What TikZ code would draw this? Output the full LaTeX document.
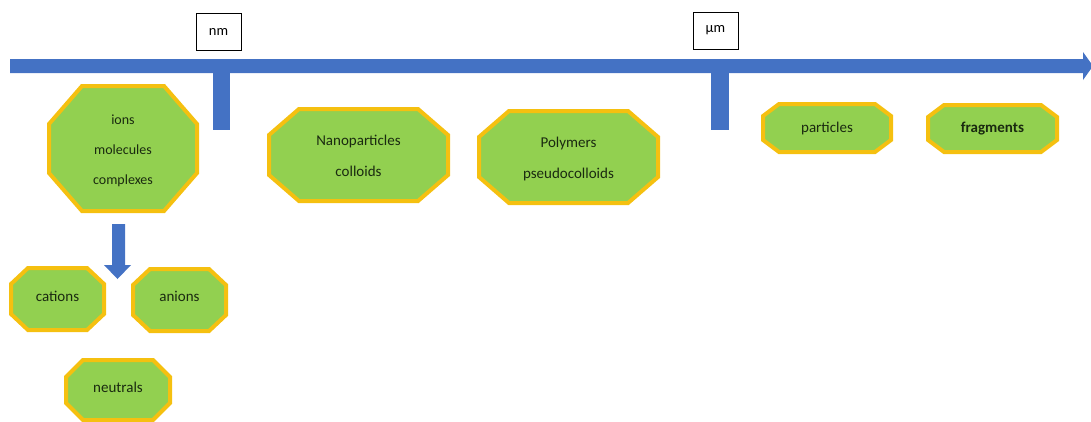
\documentclass[tikz,border=0pt]{standalone}
\usepackage{fontspec}
\setmainfont{Carlito}
\usetikzlibrary{calc}
\definecolor{axisblue}{HTML}{4472C4}
\definecolor{octfill}{HTML}{92D050}
\definecolor{octline}{HTML}{F5C010}
\definecolor{octtextcol}{HTML}{1A2A10}
\newcommand{\octpath}[6]{%
 \path[octshape] ({#1-#3/2+#5},{#2-#4/2}) -- ({#1+#3/2-#5},{#2-#4/2}) -- ({#1+#3/2},{#2-#4/2+#6}) -- ({#1+#3/2},{#2+#4/2-#6}) -- ({#1+#3/2-#5},{#2+#4/2}) -- ({#1-#3/2+#5},{#2+#4/2}) -- ({#1-#3/2},{#2+#4/2-#6}) -- ({#1-#3/2},{#2-#4/2+#6}) -- cycle;}
\tikzset{
  octshape/.style={fill=octfill, draw=octline, line width=4pt, line join=miter},
  octtext/.style={text=octtextcol, align=center, inner sep=0pt, font=\fontsize{15}{31}\selectfont},
  unitbox/.style={draw=black, fill=white, line width=0.9pt, minimum width=45pt, minimum height=37pt, inner sep=0pt, font=\fontsize{14.5}{17}\selectfont},
  axisfill/.style={fill=axisblue, draw=none}
}
\begin{document}
\begin{tikzpicture}[x=1pt,y=-1pt]
\useasboundingbox (0,0) rectangle (1091,421);
% axis
\path[axisfill] (10,59) -- (1083,59) -- (1083,52) -- (1093,66) -- (1083,80) -- (1083,73) -- (10,73) -- cycle;
\path[axisfill] (213,73) rectangle (230,130);
\path[axisfill] (711,73) rectangle (729,130);
% unit boxes
\node[unitbox] (nm) at (218.5,31.5) {nm};
\node[unitbox] (um) at (715.5,30.5) {µm};
% octagons
\octpath{123}{148.5}{148}{125}{33}{38}
\node[octtext, font=\fontsize{14}{30}\selectfont] (ions) at (123,151) {ions\\molecules\\complexes};
\octpath{358.5}{155}{179}{92}{30}{26}
\node[octtext] (nano) at (358.5,156) {Nanoparticles\\colloids};
\octpath{568.5}{157}{179}{92}{30}{26}
\node[octtext] (poly) at (568.5,158.5) {Polymers\\pseudocolloids};
\octpath{827}{128}{128}{48}{16}{12}
\node[octtext] (particles) at (827,128) {particles};
\octpath{992.5}{128.5}{129}{47}{16}{12}
\node[octtext, font=\fontsize{15}{31}\selectfont\bfseries] (fragments) at (992.5,128.5) {fragments};
\octpath{57.5}{299}{93}{62}{17}{16}
\node[octtext] (cations) at (57.5,296) {cations};
\octpath{179.5}{300}{93}{62}{17}{16}
\node[octtext] (anions) at (179.5,296) {anions};
\octpath{118}{390}{104}{60}{17}{17}
\node[octtext] (neutrals) at (118,387) {neutrals};
% down arrow
\path[axisfill] (112,224) -- (125,224) -- (125,265) -- (131,265) -- (117.5,279) -- (104,265) -- (112,265) -- cycle;
\end{tikzpicture}
\end{document}
